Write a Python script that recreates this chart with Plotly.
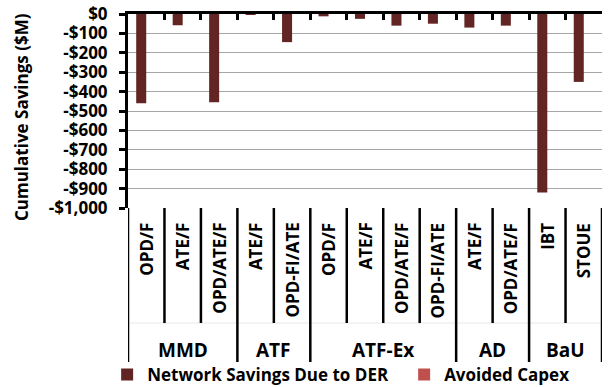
import plotly.graph_objects as go

# Scenario groups and their sub-scenarios (one bar slot per sub-scenario)
groups = ["MMD", "MMD", "MMD", "ATF", "ATF", "ATF-Ex", "ATF-Ex", "ATF-Ex", "ATF-Ex",
          "AD", "AD", "BaU", "BaU"]
scenarios = ["OPD/F", "ATE/F", "OPD/ATE/F", "ATE/F", "OPD-FI/ATE", "OPD/F", "ATE/F",
             "OPD/ATE/F", "OPD-FI/ATE", "ATE/F", "OPD/ATE/F", "IBT", "STOUE"]

# Cumulative savings, $M
network_savings = [-460, -58, -455, -2, -145, -12, -25, -60, -50, -70, -60, -920, -350]
avoided_capex = [0, 0, 0, 0, 0, 0, 0, 0, 0, 0, 0, 0, 0]

y_ticks = [0, -100, -200, -300, -400, -500, -600, -700, -800, -900, -1000]
y_tick_labels = ["$0", "-$100", "-$200", "-$300", "-$400", "-$500", "-$600",
                 "-$700", "-$800", "-$900", "-$1,000"]
y_title = "Cumulative Savings ($M)"

FONT = "Open Sans"
W, H = 608, 387
M_L, M_R, M_T, M_B = 128, 6, 14, 179
PLOT_W = W - M_L - M_R
PLOT_H = H - M_T - M_B


def px(pixel_x):
    """Convert a pixel column on the page to paper x."""
    return (pixel_x - M_L) / PLOT_W


def py(pixel_y):
    """Convert a pixel row on the page to paper y."""
    return (H - M_B - pixel_y) / PLOT_H


def bold(s):
    return "<b>" + s + "</b>"


def bfont(size):
    return dict(family=FONT, size=size, color="black", weight="bold")


n = len(scenarios)
xs = list(range(n))

fig = go.Figure()
fig.add_trace(go.Bar(x=xs, y=network_savings, name=bold("Network Savings Due to DER"),
                     marker=dict(color="#632523", line=dict(width=0))))
fig.add_trace(go.Bar(x=xs, y=avoided_capex, name=bold("Avoided Capex"),
                     marker=dict(color="#C0504D", line=dict(width=0))))

shapes = []
annotations = []

# Boundaries between categories: short ones between sub-scenarios,
# long ones between scenario groups
group_edges = [-0.5]
for i in range(1, n):
    if groups[i] != groups[i - 1]:
        group_edges.append(i - 0.5)
group_edges.append(n - 0.5)

shapes.append(dict(type="line", xref="x", yref="paper", x0=-0.5, x1=n - 0.5,
                   y0=py(323), y1=py(323), line=dict(color="#e8e8e8", width=1)))

for i in range(n + 1):
    b = i - 0.5
    bottom = 362 if b in group_edges else 323
    shapes.append(dict(type="line", xref="x", yref="paper", x0=b, x1=b,
                       y0=0, y1=py(bottom), line=dict(color="black", width=2.5)))

# Sub-scenario labels (rotated)
for i, s in enumerate(scenarios):
    annotations.append(dict(x=i, y=py(221), xref="x", yref="paper", text=bold(s),
                            textangle=-90, showarrow=False, xanchor="center",
                            yanchor="top", font=bfont(17)))

# Group labels
for g0, g1 in zip(group_edges[:-1], group_edges[1:]):
    name = groups[int(g0 + 0.5)]
    annotations.append(dict(x=(g0 + g1) / 2, y=py(350), xref="x", yref="paper",
                            text=bold(name), showarrow=False, xanchor="center",
                            yanchor="middle", font=bfont(19)))

# Value axis title
annotations.append(dict(x=px(21), y=py(117), xref="paper", yref="paper",
                        text=bold(y_title), textangle=-90, showarrow=False,
                        xanchor="center", yanchor="middle", font=bfont(17)))

fig.update_layout(
    width=W, height=H,
    margin=dict(l=M_L, r=M_R, t=M_T, b=M_B, pad=0, autoexpand=False),
    paper_bgcolor="white", plot_bgcolor="white",
    barmode="group", bargap=0.45, bargroupgap=0,
    font=bfont(17),
    showlegend=True,
    legend=dict(orientation="h", x=-0.044, xanchor="left", y=py(375), yanchor="middle",
                font=bfont(17), itemwidth=30, entrywidth=252, entrywidthmode="pixels",
                bgcolor="rgba(0,0,0,0)", tracegroupgap=0),
    shapes=shapes,
    annotations=annotations,
)

fig.update_xaxes(range=[-0.5, n - 0.5], side="top", showline=True, linecolor="black",
                 linewidth=3, ticks="inside", tickvals=[i - 0.5 for i in range(n + 1)],
                 ticklen=6, tickwidth=2.5, tickcolor="black", showticklabels=False,
                 showgrid=False, zeroline=False, fixedrange=True)

fig.update_yaxes(range=[-1000, 0], tickvals=y_ticks, ticktext=[bold(t) for t in y_tick_labels],
                 showline=True, linecolor="black", linewidth=3, ticks="outside",
                 ticklen=6, tickwidth=2.5, tickcolor="black", ticklabelstandoff=8,
                 showgrid=True, gridcolor="#a6a6a6", gridwidth=1, zeroline=False,
                 tickfont=bfont(17), fixedrange=True)

fig.write_html("out.html")
